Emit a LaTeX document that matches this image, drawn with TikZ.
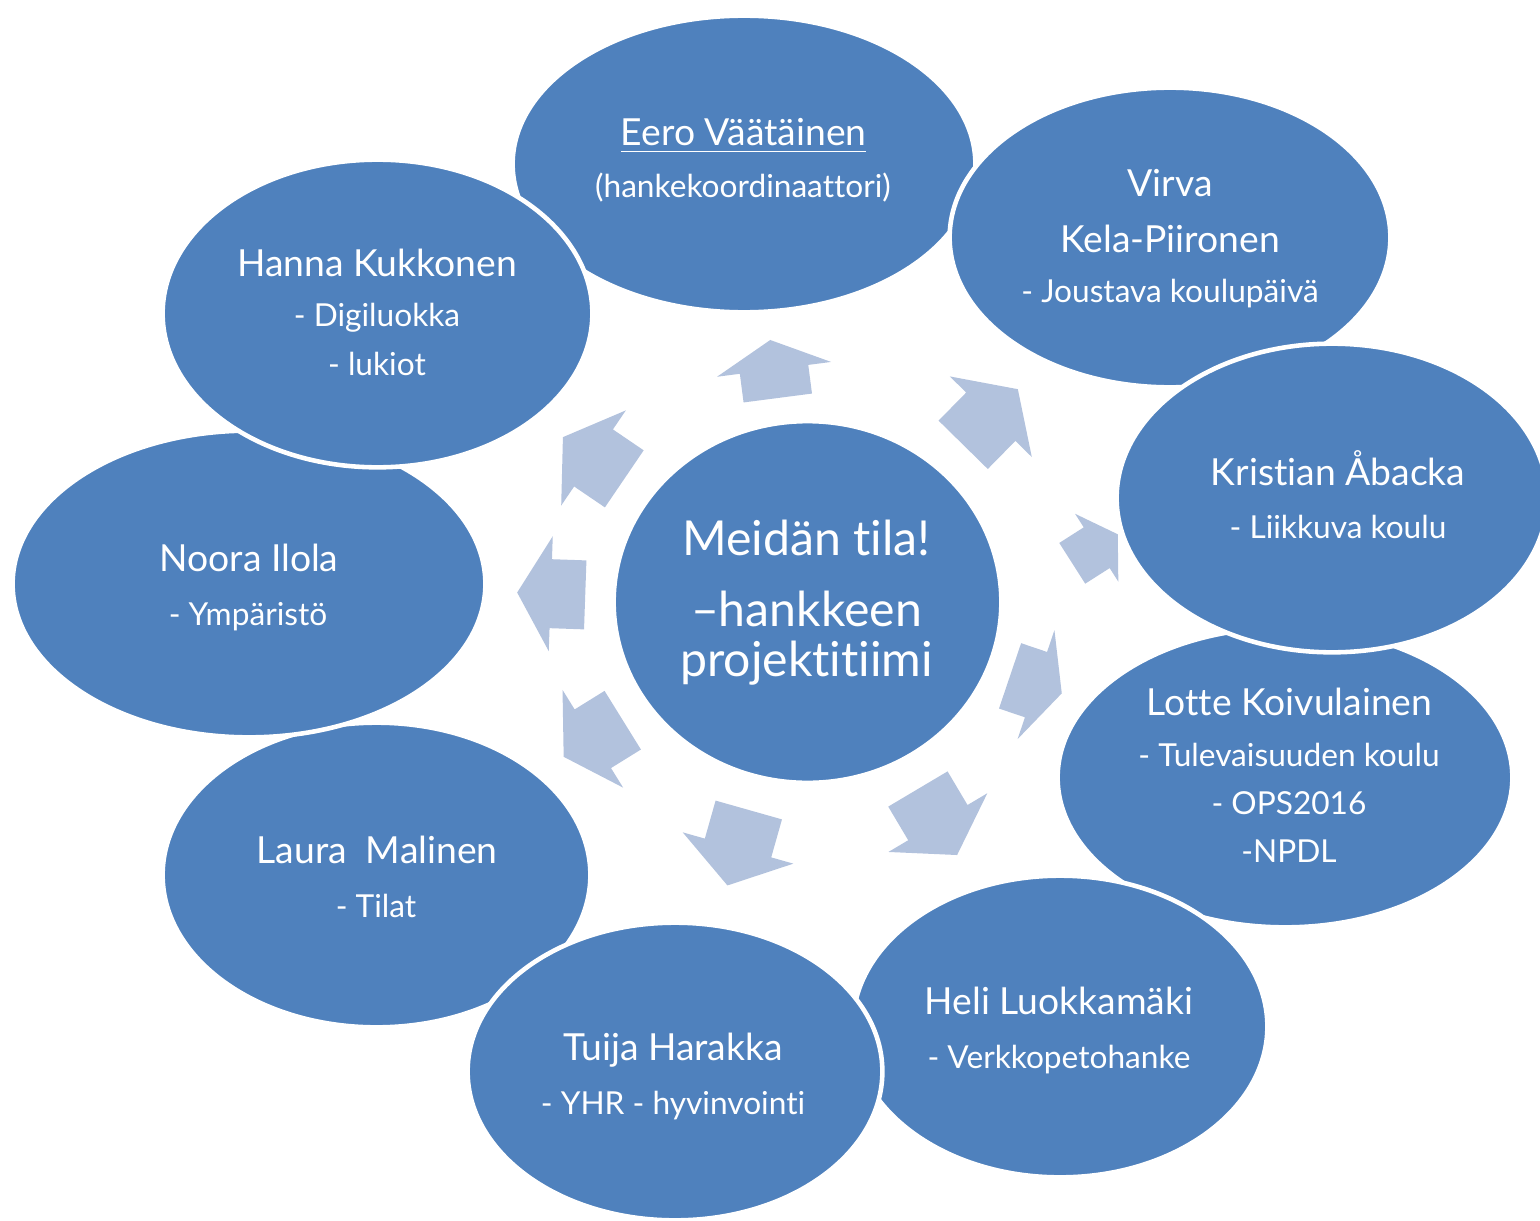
\documentclass[tikz,border=0pt]{standalone}
\usepackage{fontspec}
\setmainfont[Ligatures={NoCommon}]{Lato}
\usetikzlibrary{positioning,shapes}
\definecolor{teamblue}{RGB}{79,129,189}
\definecolor{arrowblue}{RGB}{178,194,221}
\tikzstyle{member} = [ellipse, draw=white, line width=1.3pt, fill=teamblue, inner sep=0pt]
\tikzstyle{who} = [text=white, anchor=base, align=center, font=\fontsize{10.6}{15.9}\selectfont]
\tikzstyle{role} = [text=white, anchor=base, align=center, font=\fontsize{9}{13.7}\selectfont]
\tikzstyle{spoke} = [fill=arrowblue]

\begin{document}
\begin{tikzpicture}[x=0.01cm, y=0.01cm]
    \useasboundingbox (0,0) rectangle (1540,1220);
    \clip (0,0) rectangle (1540,1220);
    % Draw arrows
    \foreach \x/\y/\ang/\len/\head/\sc in {774/851/97.4/58.5/29.6/1, 990.5/803/45.5/78/38.6/1,
        1095/671.2/32.5/54/25/0.7, 1035.9/535.4/-18.7/54.6/27.2/1, 937.5/398/-59.3/76.8/37.7/1,
        738.1/372.3/-105.8/78.4/38.9/1, 593.2/481.5/-148.2/69.5/34.3/1, 551.2/626.3/178/68.1/33.6/1,
        593.6/762/145.8/74.2/37/1}
    {
        \begin{scope}[shift={(\x,\y)}, rotate=\ang]
            \path [spoke] ({-\len/2},{-34.5*\sc}) -- ({\len/2-\head},{-34.5*\sc}) -- ({\len/2-\head},{-57.5*\sc})
                -- ({\len/2},0) -- ({\len/2-\head},{57.5*\sc}) -- ({\len/2-\head},{34.5*\sc}) -- ({-\len/2},{34.5*\sc}) -- cycle;
        \end{scope}
    }
    % Place nodes
    \node [member, minimum width=4.625cm, minimum height=2.965cm] (eero) at (744,1056) {};
    \node [member, minimum width=4.405cm, minimum height=2.995cm] (virva) at (1170,982.5) {};
    \node [member, minimum width=4.545cm, minimum height=2.995cm] (lotte) at (1285,442.5) {};
    \node [member, minimum width=4.145cm, minimum height=3.015cm] (heli) at (1060,193.5) {};
    \node [member, minimum width=4.275cm, minimum height=3.045cm] (laura) at (376.5,345) {};
    \node [member, minimum width=4.725cm, minimum height=3.065cm] (noora) at (249,636) {};
    \node [member, minimum width=4.305cm, minimum height=3.085cm] (kristian) at (1332,722) {};
    \node [member, minimum width=4.145cm, minimum height=2.975cm] (tuija) at (675,148.5) {};
    \node [member, minimum width=4.295cm, minimum height=3.075cm] (hanna) at (377.5,906.5) {};
    \node [member, minimum width=3.875cm, minimum height=3.615cm] (team) at (807.5,618) {};
    % Texts (base = last line)
    \node [who] (eero-who) at (743.7,1074) {\underline{Eero Väätäinen}};
    \node [role] (eero-role) at (743,1023) {(hankekoordinaattori)};
    \node [who] (virva-who) at (1170,968) {Virva\\Kela-Piironen};
    \node [role] (virva-role) at (1170,918) {- Joustava koulupäivä};
    \node [who] (kristian-who) at (1338,735) {Kristian Åbacka};
    \node [role] (kristian-role) at (1338,682) {- Liikkuva koulu};
    \node [who] (lotte-who) at (1289.6,504.5) {Lotte Koivulainen};
    \node [role] (lotte-role) at (1289,357.5) {- Tulevaisuuden koulu\\- OPS2016\\-NPDL};
    \node [who] (heli-who) at (1059,206) {Heli Luokkamäki};
    \node [role] (heli-role) at (1059,152) {- Verkkopetohanke};
    \node [who] (tuija-who) at (673,160) {Tuija Harakka};
    \node [role] (tuija-role) at (673,106) {- YHR - hyvinvointi};
    \node [who] (laura-who) at (377,357) {Laura\ \ Malinen};
    \node [role] (laura-role) at (376,303) {- Tilat};
    \node [who] (noora-who) at (249,649) {Noora Ilola};
    \node [role] (noora-role) at (248,595) {- Ympäristö};
    \node [who] (hanna-who) at (377,944) {Hanna Kukkonen};
    \node [role] (hanna-role) at (377,845) {- Digiluokka\\- lukiot};
    \node [text=white, anchor=base, align=center, font=\fontsize{13.7}{14.2}\selectfont] (team-text) at (806.5,544)
        {Meidän tila!\\[6pt]–hankkeen\\projektitiimi};
\end{tikzpicture}
\end{document}
